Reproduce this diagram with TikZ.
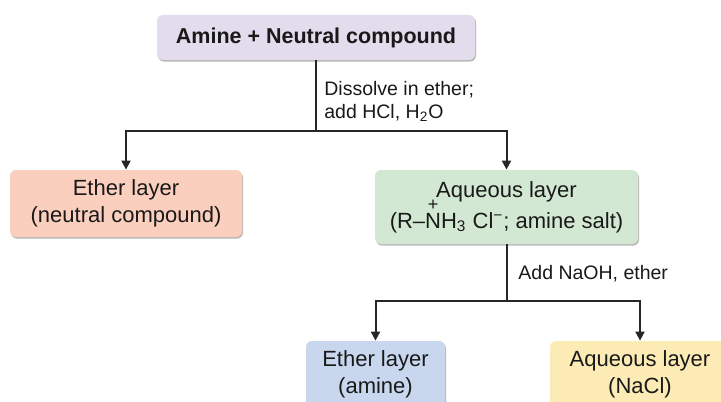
\documentclass[tikz,border=0pt]{standalone}
\usepackage{fontspec}
\setmainfont{Liberation Sans}
\usepackage{tikz}
\usetikzlibrary{arrows.meta,shadows}

\definecolor{mixfill}{HTML}{E3DCEC}
\definecolor{etherfill}{HTML}{FBCFBE}
\definecolor{aqfill}{HTML}{D3E8D3}
\definecolor{aminefill}{HTML}{C8D6EE}
\definecolor{naclfill}{HTML}{FDEBB5}

% N with a small + set over it
\newbox\plusbox
\newcommand{\chargedN}{\setbox\plusbox\hbox{\fontsize{9}{9}\selectfont+}\ht\plusbox=0pt\dp\plusbox=0pt\ooalign{N\cr\hidewidth\raise8.6pt\box\plusbox\hidewidth\cr}}

\begin{document}
\begin{tikzpicture}[x=0.5pt,y=-0.5pt,>={Triangle[width=4.5pt,length=4.5pt]},
  box/.style={rounded corners=3pt,align=center,inner sep=0pt,text=black!90,
    drop shadow={shadow xshift=0.5pt,shadow yshift=-0.8pt,fill=black!50,opacity=0.55},
    font=\fontsize{11}{13.2}\selectfont},
  link/.style={line width=1pt,draw=black!85},
  note/.style={inner sep=0pt,align=left,text=black!90,font=\fontsize{9.75}{11.5}\selectfont}]
\useasboundingbox (0,0) rectangle (721,401);
\clip (0,0) rectangle (721,401);
\node[box,fill=mixfill,minimum width=159pt,minimum height=22.5pt,
  font=\bfseries\fontsize{10.75}{13}\selectfont] (mix) at (316,37.5) {Amine + Neutral compound};
\node[box,fill=etherfill,minimum width=116pt,minimum height=33.5pt] (ether) at (126,203.5)
  {Ether layer\\(neutral compound)};
\node[box,fill=aqfill,minimum width=131.5pt,minimum height=37pt] (aq) at (506.5,207)
  {Aqueous layer\\[2.3pt](R–\chargedN H\textsubscript{3} Cl\textsuperscript{−}; amine salt)};
\node[box,fill=aminefill,minimum width=69.5pt,minimum height=33.5pt] (amine) at (375.5,374.5)
  {Ether layer\\(amine)};
\node[box,fill=naclfill,minimum width=90pt,minimum height=33.5pt] (nacl) at (640,374.5)
  {Aqueous layer\\(NaCl)};
% first split
\coordinate (fork1) at (316,131);
\draw[link] (mix.south) -- (fork1);
\draw[link,->] (fork1) -| (ether.north);
\draw[link,->] (fork1) -| (aq.north);
\node[note,anchor=north west] (step1) at (324,81) {Dissolve in ether;\\add HCl, H\textsubscript{2}O};
% second split
\coordinate (fork2) at (506.5,301);
\draw[link] (aq.south) -- (fork2);
\draw[link,->] (fork2) -| (amine.north);
\draw[link,->] (fork2) -| (nacl.north);
\node[note,anchor=base west] (step2) at (518,279) {Add NaOH, ether};
\end{tikzpicture}
\end{document}
